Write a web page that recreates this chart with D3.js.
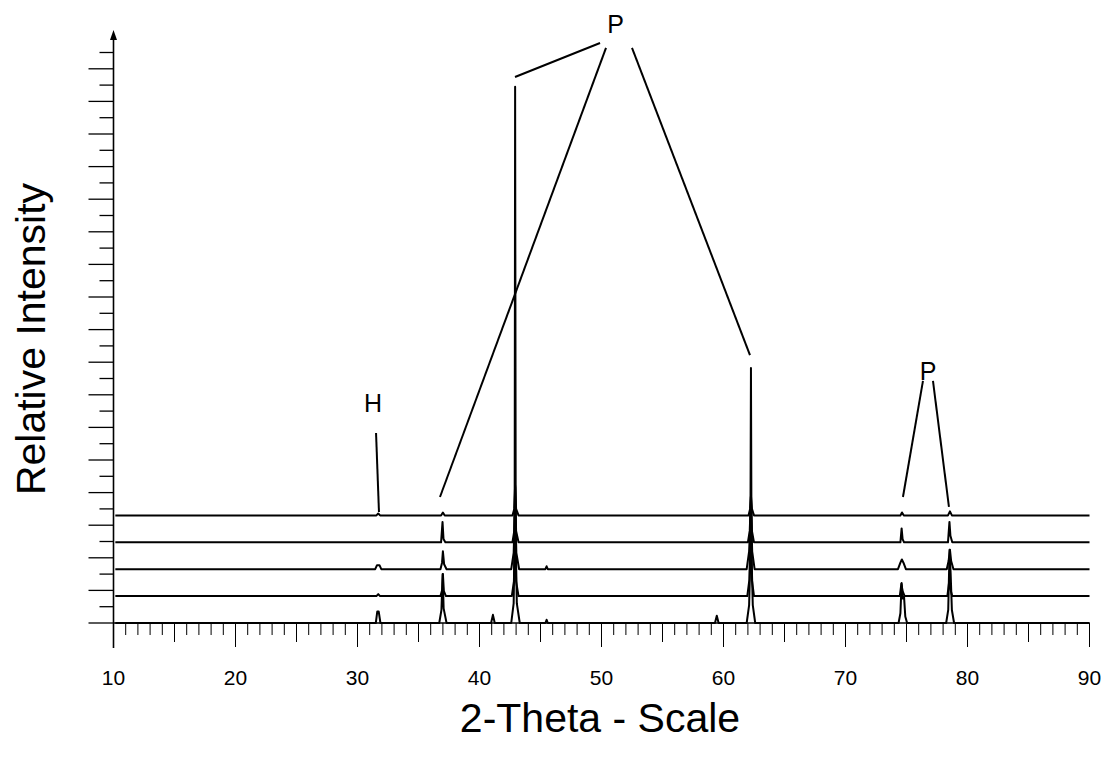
<!DOCTYPE html>
<html>
<head>
<meta charset="utf-8">
<script src="https://cdn.jsdelivr.net/npm/d3@7"></script>
<style>
  body { margin: 0; background: #fff; }
  text { font-family: "Liberation Sans", Arial, sans-serif; fill: #000; }
</style>
</head>
<body>
<div id="chart"></div>
<script>
// stacked XRD patterns, [2theta, counts] points (baseline = 0)
var scan1 = [[10.15,0],[31.5,0],[31.62,70],[31.74,70],[31.88,0],[36.7,0],[36.88,80],[36.98,300],[37.06,90],[37.3,0],
  [40.95,0],[41.1,50],[41.25,0],[42.6,0],[42.8,120],[42.88,500],[42.92,3290],[42.97,500],[43.06,120],[43.3,0],
  [45.4,0],[45.5,20],[45.6,0],[59.3,0],[59.45,45],[59.6,0],[61.9,0],[62.1,110],[62.2,400],[62.25,1565],[62.3,400],[62.4,110],[62.6,0],
  [74.35,0],[74.5,60],[74.6,245],[74.7,150],[74.8,160],[74.9,40],[75.05,0],
  [78.25,0],[78.42,80],[78.53,450],[78.62,300],[78.72,80],[78.9,0],[90,0]];
var scan2 = [[10.15,0],[31.55,0],[31.7,12],[31.85,0],[36.8,0],[36.95,40],[37.0,135],[37.08,30],[37.25,0],
  [42.65,0],[42.82,90],[42.92,490],[43.0,90],[43.2,0],[61.95,0],[62.12,100],[62.25,550],[62.33,100],[62.5,0],
  [74.45,0],[74.58,75],[74.68,30],[74.85,0],[78.35,0],[78.5,90],[78.6,40],[78.75,0],[90,0]];
var scan3 = [[10.15,0],[31.45,0],[31.6,25],[31.8,25],[31.95,0],[36.8,0],[36.93,40],[37.0,110],[37.1,30],[37.3,0],
  [42.6,0],[42.8,100],[42.92,430],[43.02,100],[43.25,0],[45.4,0],[45.5,18],[45.6,0],
  [61.9,0],[62.1,110],[62.25,370],[62.35,110],[62.55,0],[74.3,0],[74.5,40],[74.62,60],[74.75,40],[74.95,0],
  [78.3,0],[78.45,50],[78.56,120],[78.66,50],[78.85,0],[90,0]];
var scan4 = [[10.15,0],[36.85,0],[36.97,125],[37.05,20],[37.2,0],[42.7,0],[42.85,70],[42.92,340],[43.0,70],[43.2,0],
  [62.0,0],[62.15,70],[62.25,280],[62.33,70],[62.5,0],[74.5,0],[74.6,85],[74.68,20],[74.8,0],
  [78.4,0],[78.52,125],[78.6,40],[78.75,0],[90,0]];
var scan5 = [[10.15,0],[31.55,0],[31.7,12],[31.85,0],[36.85,0],[37.0,18],[37.15,0],[42.7,0],[42.85,40],[42.92,185],[43.0,40],[43.2,0],
  [62.05,0],[62.18,40],[62.25,120],[62.33,40],[62.5,0],[74.5,0],[74.63,18],[74.78,0],[78.4,0],[78.56,25],[78.72,0],[90,0]];
var scans = [scan1, scan2, scan3, scan4, scan5];
var scanOffsets = [0, 165, 330, 495, 660];

var xTickLabels = [10, 20, 30, 40, 50, 60, 70, 80, 90];

// peak labels and leader lines, in [2theta, counts]
var peakLabels = [
  {text: "P", pos: [51.15, 3620]},
  {text: "H", pos: [31.27, 1294]},
  {text: "P", pos: [76.76, 1491]}
];
var leaderLines = [
  [[42.91, 3350], [49.88, 3558]],
  [[50.37, 3528], [36.76, 773]],
  [[52.5, 3528], [62.17, 1644]],
  [[31.52, 1166], [31.76, 681]],
  [[76.35, 1485], [74.71, 773]],
  [[77.17, 1485], [78.48, 712]]
];

var width = 1104, height = 759;

var svg = d3.select("#chart").append("svg")
  .attr("width", width)
  .attr("height", height);

var x = d3.scaleLinear().domain([10, 90]).range([113.5, 1089.5]);
var y = d3.scaleLinear().domain([0, 3500]).range([623, 52.5]);

// y axis: unlabelled ticks, long every other one
svg.append("line")
  .attr("x1", x(10)).attr("x2", x(10))
  .attr("y1", 648).attr("y2", 36)
  .attr("stroke", "#000").attr("stroke-width", 1.6);
svg.append("path")
  .attr("d", "M" + x(10) + ",30 l-3.5,10 l7,0 z")
  .attr("fill", "#000");

svg.selectAll(".ytick")
  .data(d3.range(0, 3501, 100))
  .enter().append("line")
  .attr("class", "ytick")
  .attr("x1", function(d) { return d % 200 === 0 ? x(10) - 25 : x(10) - 14; })
  .attr("x2", x(10))
  .attr("y1", function(d) { return y(d); })
  .attr("y2", function(d) { return y(d); })
  .attr("stroke", "#000")
  .attr("stroke-width", 1.3);

// x axis
svg.append("line")
  .attr("x1", x(10)).attr("x2", x(90))
  .attr("y1", y(0)).attr("y2", y(0))
  .attr("stroke", "#000").attr("stroke-width", 1.6);

svg.selectAll(".xtick")
  .data(d3.range(10, 91, 1))
  .enter().append("line")
  .attr("class", "xtick")
  .attr("x1", function(d) { return x(d); })
  .attr("x2", function(d) { return x(d); })
  .attr("y1", y(0))
  .attr("y2", function(d) {
    if (d % 10 === 0) return y(0) + 24;
    if (d % 5 === 0) return y(0) + 19;
    return y(0) + 12;
  })
  .attr("stroke", "#000")
  .attr("stroke-width", 1);

svg.selectAll(".xlabel")
  .data(xTickLabels)
  .enter().append("text")
  .attr("class", "xlabel")
  .attr("x", function(d) { return x(d); })
  .attr("y", 685)
  .attr("text-anchor", "middle")
  .style("font-size", "21px")
  .text(function(d) { return d; });

// the five patterns
var line = d3.line()
  .x(function(d) { return x(d[0]); })
  .y(function(d) { return y(d[1]); });

scans.forEach(function(scan, i) {
  svg.append("path")
    .datum(scan.map(function(p) { return [p[0], p[1] + scanOffsets[i]]; }))
    .attr("d", line)
    .attr("fill", "none")
    .attr("stroke", "#000")
    .attr("stroke-width", 2)
    .attr("stroke-linejoin", "round");
});

// annotations
svg.selectAll(".leader")
  .data(leaderLines)
  .enter().append("line")
  .attr("class", "leader")
  .attr("x1", function(d) { return x(d[0][0]); })
  .attr("y1", function(d) { return y(d[0][1]); })
  .attr("x2", function(d) { return x(d[1][0]); })
  .attr("y2", function(d) { return y(d[1][1]); })
  .attr("stroke", "#000")
  .attr("stroke-width", 2);

svg.selectAll(".peaklabel")
  .data(peakLabels)
  .enter().append("text")
  .attr("class", "peaklabel")
  .attr("x", function(d) { return x(d.pos[0]); })
  .attr("y", function(d) { return y(d.pos[1]); })
  .attr("text-anchor", "middle")
  .style("font-size", "25px")
  .text(function(d) { return d.text; });

// axis titles
svg.append("text")
  .attr("x", 600)
  .attr("y", 732)
  .attr("text-anchor", "middle")
  .style("font-size", "41px")
  .text("2-Theta - Scale");

svg.append("text")
  .attr("transform", "translate(45,339) rotate(-90)")
  .attr("text-anchor", "middle")
  .style("font-size", "41px")
  .text("Relative Intensity");
</script>
</body>
</html>
